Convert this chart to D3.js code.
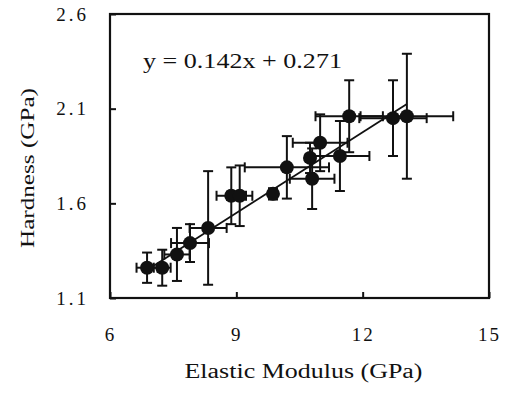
<!DOCTYPE html>
<html>
<head>
<meta charset="utf-8">
<script src="https://cdn.jsdelivr.net/npm/d3@7"></script>
<style>
  html, body { margin: 0; padding: 0; background: #fff; }
  svg { display: block; }
  text { font-family: "Liberation Serif", "Times New Roman", serif; fill: #111; }
</style>
</head>
<body>
<svg id="chart" width="505" height="394"></svg>
<script>
// Elastic modulus (GPa) vs hardness (GPa), with standard deviations
const modulus   = [6.88, 7.24, 7.59, 7.90, 8.33, 8.88, 9.08, 9.87, 10.20, 10.80, 10.75, 10.99, 11.46, 11.68, 12.72, 13.05];
const hardness  = [1.26, 1.26, 1.33, 1.39, 1.47, 1.64, 1.64, 1.65, 1.79, 1.73, 1.84, 1.92, 1.85, 2.06, 2.05, 2.06];
const modulusSD = [0.25, 0.20, 0.30, 0.45, 0.44, 0.35, 0.30, 0.05, 1.00, 0.53, 0.10, 0.65, 0.70, 0.80, 0.80, 1.10];
const hardnessSD= [0.08, 0.095, 0.14, 0.10, 0.30, 0.15, 0.16, 0.03, 0.165, 0.16, 0.08, 0.15, 0.185, 0.19, 0.20, 0.33];

const fitSlope = [0.142];
const fitIntercept = [0.271];

const xTicks = [6, 9, 12, 15];
const yTicks = [1.1, 1.6, 2.1, 2.6];
const xTitle = "Elastic Modulus (GPa)";
const yTitle = "Hardness (GPa)";

const svg = d3.select("#chart");
const L = 110, R = 489, T = 14, B = 298;

const x = d3.scaleLinear().domain([6, 15]).range([L, R]);
const y = d3.scaleLinear().domain([1.1, 2.6]).range([B, T]);

// axes with inward ticks
const xAxis = d3.axisBottom(x).tickValues(xTicks).tickFormat(d3.format("d"))
  .tickSizeInner(-6).tickSizeOuter(0).tickPadding(30);
const yAxis = d3.axisLeft(y).tickValues(yTicks).tickFormat(d3.format(".1f"))
  .tickSizeInner(-6).tickSizeOuter(0).tickPadding(21);

const gx = svg.append("g").attr("transform", `translate(0,${B})`).call(xAxis);
const gy = svg.append("g").attr("transform", `translate(${L},0)`).call(yAxis);
[gx, gy].forEach(g => {
  g.select(".domain").remove();
  g.selectAll(".tick line").attr("stroke", "#111").attr("stroke-width", 2);
  g.selectAll(".tick text").attr("font-size", 19).attr("font-family", "Liberation Serif").attr("fill", "#222");
});
gy.selectAll(".tick text").attr("letter-spacing", 3);
gx.selectAll(".tick text").attr("letter-spacing", 2);

// frame
svg.append("rect")
  .attr("x", L).attr("y", T).attr("width", R - L).attr("height", B - T)
  .attr("fill", "none").attr("stroke", "#111").attr("stroke-width", 2.2);

// axis titles
svg.append("text")
  .attr("x", (L + R) / 2 + 4).attr("y", 378)
  .attr("text-anchor", "middle")
  .attr("font-size", 20)
  .attr("textLength", 238).attr("lengthAdjust", "spacingAndGlyphs")
  .attr("fill", "#222")
  .text(xTitle);

svg.append("text")
  .attr("transform", `translate(34,168) rotate(-90)`)
  .attr("text-anchor", "middle")
  .attr("font-size", 19)
  .attr("textLength", 160).attr("lengthAdjust", "spacingAndGlyphs")
  .attr("fill", "#222")
  .text(yTitle);

// regression line
const xMin = d3.min(modulus), xMax = d3.max(modulus);
const fit = v => fitSlope[0] * v + fitIntercept[0];
svg.append("line")
  .attr("x1", x(xMin)).attr("y1", y(fit(xMin)))
  .attr("x2", x(xMax)).attr("y2", y(fit(xMax)))
  .attr("stroke", "#111").attr("stroke-width", 1.8);

// equation
svg.append("text")
  .attr("x", 143).attr("y", 68)
  .attr("font-size", 22)
  .attr("textLength", 199).attr("lengthAdjust", "spacingAndGlyphs")
  .attr("fill", "#111")
  .text(`y = ${fitSlope[0]}x + ${fitIntercept[0]}`);

// error bars
const pts = modulus.map((m, i) => ({ x: m, y: hardness[i], ex: modulusSD[i], ey: hardnessSD[i] }));
const cap = 5;
const eb = svg.append("g").attr("stroke", "#111").attr("stroke-width", 2);
pts.forEach(p => {
  const cx = x(p.x), cy = y(p.y);
  const x0 = x(p.x - p.ex), x1 = x(p.x + p.ex);
  const y0 = y(p.y - p.ey), y1 = y(p.y + p.ey);
  eb.append("line").attr("x1", x0).attr("x2", x1).attr("y1", cy).attr("y2", cy);
  eb.append("line").attr("x1", x0).attr("x2", x0).attr("y1", cy - cap).attr("y2", cy + cap);
  eb.append("line").attr("x1", x1).attr("x2", x1).attr("y1", cy - cap).attr("y2", cy + cap);
  eb.append("line").attr("x1", cx).attr("x2", cx).attr("y1", y0).attr("y2", y1);
  eb.append("line").attr("x1", cx - cap).attr("x2", cx + cap).attr("y1", y0).attr("y2", y0);
  eb.append("line").attr("x1", cx - cap).attr("x2", cx + cap).attr("y1", y1).attr("y2", y1);
});

// markers
svg.append("g").selectAll("circle").data(pts).join("circle")
  .attr("cx", d => x(d.x)).attr("cy", d => y(d.y)).attr("r", 7)
  .attr("fill", "#111");
</script>
</body>
</html>
